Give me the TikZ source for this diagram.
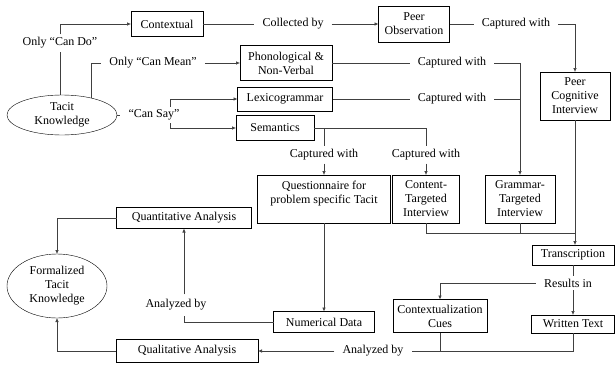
\documentclass[tikz,border=0pt]{standalone}
\usepackage{fontspec}
\setmainfont{Liberation Serif}
\usetikzlibrary{arrows.meta,shapes.geometric}

\tikzset{
  box/.style={draw, outer sep=0, inner sep=0, align=center},
  blob/.style={draw, ellipse, outer sep=0, inner sep=0, align=center},
  lbl/.style={inner xsep=8pt, inner ysep=3pt},
  conn/.style={draw=black!75, line width=0.6pt},
  arr/.style={conn, -{Latex[length=4pt, width=3.5pt]}}
}

\begin{document}
\begin{tikzpicture}[x=1pt, y=-1pt, font=\fontsize{12}{14}\selectfont]
      \useasboundingbox (0,0) rectangle (616,367);

      \draw (62,115) node[blob, minimum width=110, minimum height=40] (tacit) {Tacit\\Knowledge};

      \draw (57,286) node[blob, minimum width=100, minimum height=64] (formal) {Formalized\\Tacit\\Knowledge};

      \draw (167,24) node[box, minimum width=72, minimum height=25] (contextual) {Contextual};

      \draw (414,24) node[box, minimum width=71, minimum height=36] (peerobs) {Peer\\Observation};

      \draw (286,63) node[box, minimum width=92, minimum height=35] (phon) {Phonological \&\\Non-Verbal};

      \draw (285,99) node[box, minimum width=95, minimum height=24] (lexi) {Lexicogrammar};

      \draw (275,128) node[box, minimum width=78, minimum height=25] (sem) {Semantics};

      \draw (575,96) node[box, minimum width=70, minimum height=48] (peerci) {Peer\\Cognitive\\Interview};

      \draw (324,199) node[box, minimum width=133, minimum height=48] (quest) {Questionnaire for\\problem specific Tacit\\[0pt]};

      \draw (426,199) node[box, minimum width=67, minimum height=48] (content) {Content-\\Targeted\\Interview};

      \draw (520,199) node[box, minimum width=70, minimum height=48] (grammar) {Grammar-\\Targeted\\Interview};

      \draw (573,255) node[box, minimum width=82, minimum height=20] (transc) {Transcription};

      \draw (440,316) node[box, minimum width=94, minimum height=33] (cues) {Contextualization\\Cues};

      \draw (573,324) node[box, minimum width=83, minimum height=18] (written) {Written Text};

      \draw (324,322) node[box, minimum width=101, minimum height=21] (numdata) {Numerical Data};

      \draw (187,351) node[box, minimum width=142, minimum height=23] (qual) {Qualitative Analysis};

      \draw (184,218) node[box, minimum width=135, minimum height=21] (quant) {Quantitative Analysis};

      \node[lbl] (candolbl) at (60,43) {Only “Can Do”};
      \node[lbl] (canmeanlbl) at (153,63) {Only “Can Mean”};
      \node[lbl] (cansaylbl) at (154,115) {“Can Say”};
      \node[lbl] (collbylbl) at (293,24) {Collected by};
      \node[lbl] (capobslbl) at (516,24) {Captured with};
      \node[lbl] (capphonlbl) at (452,63) {Captured with};
      \node[lbl] (caplexilbl) at (452,99) {Captured with};
      \node[lbl] (capqlbl) at (324,155) {Captured with};
      \node[lbl] (capclbl) at (426,155) {Captured with};
      \node[lbl] (resultslbl) at (568,283) {Results in};
      \node[lbl] (anqualbl) at (373,351) {Analyzed by};
      \node[lbl, inner ysep=5pt] (anquanlbl) at (176,305) {Analyzed by};

      \coordinate (saybr) at (170,115);
      \coordinate (merge) at (575,233);

      \draw[conn] (tacit.north -| candolbl) -- (candolbl);
      \draw[arr] (candolbl) |- (contextual);
      \draw[conn] (tacit.30) |- (canmeanlbl);
      \draw[arr] (canmeanlbl) -- (phon);
      \draw[conn] (tacit) -- (cansaylbl);
      \draw[arr] (saybr |- cansaylbl.north) |- (lexi);
      \draw[arr] (saybr |- cansaylbl.south) |- (sem);

      \draw[conn] (contextual) -- (collbylbl);
      \draw[arr] (collbylbl) -- (peerobs);
      \draw[conn] (peerobs) -- (capobslbl);
      \draw[arr] (capobslbl) -| (peerci);

      \draw[conn] (phon) -- (capphonlbl);
      \draw[arr] (capphonlbl) -| (grammar);
      \draw[conn] (lexi) -- (caplexilbl);
      \draw[conn] (caplexilbl) -- (caplexilbl -| grammar);

      \draw[conn] (sem) -| (capclbl);
      \draw[conn] (sem.east -| capqlbl) -- (capqlbl);
      \draw[arr] (capqlbl) -- (quest);
      \draw[arr] (capclbl) -- (content);

      \draw[arr] (peerci) -- (peerci |- transc.north);
      \draw[conn] (content) |- (merge);
      \draw[conn] (grammar) -- (grammar |- merge);

      \draw[conn] (transc) -- (transc |- resultslbl.north);
      \draw[arr] (resultslbl) -| (cues);
      \draw[arr] (transc |- resultslbl.south) -- (written);

      \draw[conn] (written) |- (anqualbl);
      \draw[conn] (cues) -- (cues |- anqualbl);
      \draw[arr] (anqualbl) -- (qual);
      \draw[arr] (qual) -| (formal);

      \draw[arr] (quest) -- (numdata);
      \draw[conn] (numdata) -| (quant |- anquanlbl.south);
      \draw[arr] (quant |- anquanlbl.north) -- (quant);
      \draw[arr] (quant) -| (formal);
    \end{tikzpicture}
\end{document}
